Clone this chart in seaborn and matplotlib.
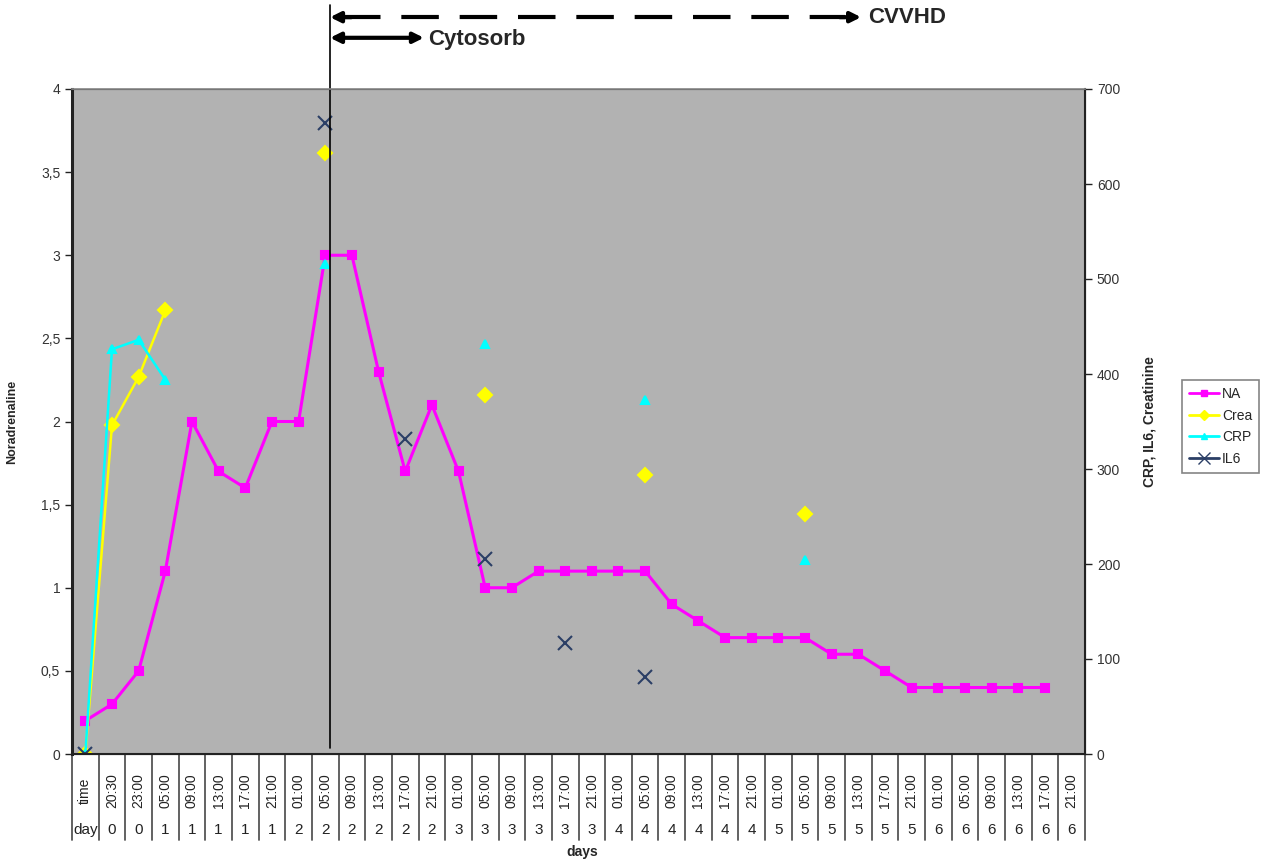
import numpy as np
import pandas as pd
import matplotlib
matplotlib.use("Agg")
import matplotlib.pyplot as plt
import matplotlib.transforms as mtransforms
from matplotlib.lines import Line2D
import seaborn as sns

nan = np.nan

# categorias do eixo x (hora / dia)
horas = ["time", "20:30", "23:00", "05:00", "09:00", "13:00", "17:00", "21:00"] + \
    ["01:00", "05:00", "09:00", "13:00", "17:00", "21:00"] * 5
dias = ["day", "0", "0", "1", "1", "1", "1", "1"] + \
    [str(d) for d in range(2, 7) for _ in range(6)]

# noradrenalina (eixo esquerdo)
na = [0.2, 0.3, 0.5, 1.1, 2.0, 1.7, 1.6, 2.0, 2.0, 3.0, 3.0, 2.3, 1.7, 2.1, 1.7,
      1.0, 1.0, 1.1, 1.1, 1.1, 1.1, 1.1, 0.9, 0.8, 0.7, 0.7, 0.7, 0.7, 0.6, 0.6,
      0.5, 0.4, 0.4, 0.4, 0.4, 0.4, 0.4, nan]

# eixo direito
crea = [0, 346, 397, 467, nan, nan, nan, nan, nan, 633, nan, nan, nan, nan, nan,
        378, nan, nan, nan, nan, nan, 294, nan, nan, nan, nan, nan, 253] + [nan] * 10
crp = [0, 426, 436, 394, nan, nan, nan, nan, nan, 516, nan, nan, nan, nan, nan,
       432, nan, nan, nan, nan, nan, 373, nan, nan, nan, nan, nan, 204] + [nan] * 10
il6 = [0, nan, nan, nan, nan, nan, nan, nan, nan, 664, nan, nan, 332, nan, nan,
       205, nan, nan, 117, nan, nan, 81] + [nan] * 16

inicio_terapia = 9  # 05:00 dia 2


def tabela_longa(valores):
    s = pd.Series(valores, dtype=float)
    df = pd.DataFrame({"pos": np.arange(len(s)), "valor": s, "seg": s.isna().cumsum()})
    return df.dropna()


sns.set_style("ticks")
plt.rcParams["font.family"] = ["Liberation Sans", "DejaVu Sans"]

fig = plt.figure(figsize=(12.69, 8.66), dpi=100)
ax = fig.add_axes([72 / 1269, 1 - 754 / 866, 1013 / 1269, 665 / 866])
ax.set_facecolor("#b2b2b2")
ax2 = ax.twinx()

estilos = [
    (ax, na, "NA", "#ff00ff", "s", 5.5, 2.2),
    (ax2, crea, "Crea", "#ffff00", "D", 7, 1.8),
    (ax2, crp, "CRP", "#00ffff", "^", 6, 1.8),
    (ax2, il6, "IL6", "#2b3f66", "x", 10, 1.5),
]
for eixo, valores, nome, cor, marca, tam, lw in estilos:
    sns.lineplot(data=tabela_longa(valores), x="pos", y="valor", units="seg",
                 estimator=None, sort=False, color=cor, marker=marca,
                 markersize=tam, markeredgecolor=cor, markeredgewidth=1.5,
                 linewidth=lw, legend=False, ax=eixo)

ax.set_xlim(-0.5, len(horas) - 0.5)
ax.set_ylim(0, 4)
ax2.set_ylim(0, 700)
ax.set_yticks(np.arange(0, 4.01, 0.5))
ax.set_yticklabels([f"{v:g}".replace(".", ",") for v in np.arange(0, 4.01, 0.5)])
ax2.set_yticks(np.arange(0, 701, 100))
ax.set_xticks(range(len(horas)))
ax.set_xticklabels([])
ax.tick_params(axis="x", length=0)
ax.tick_params(axis="y", length=5, width=1, color="#222222", labelsize=10, labelcolor="#333333")
ax2.tick_params(axis="y", length=5, width=1, color="#222222", labelsize=10, labelcolor="#333333")
ax.set_xlabel("")
ax.set_ylabel("Noradrenaline", fontsize=9, fontweight="bold")
ax.yaxis.set_label_coords(-0.053, 0.5)
ax2.set_ylabel("CRP, IL6, Creatinine", fontsize=10, fontweight="bold")
ax2.yaxis.set_label_coords(1.057, 0.5)

for lado in ["left", "bottom", "right"]:
    ax2.spines[lado].set_color("#222222")
    ax2.spines[lado].set_linewidth(1.5)
ax2.spines["left"].set_linewidth(2.2)
ax2.spines["top"].set_color("#888888")
ax2.spines["top"].set_linewidth(1.2)

# tabela de rótulos sob o eixo x
trans = mtransforms.blended_transform_factory(ax.transData, ax.transAxes)
for i, (h, d) in enumerate(zip(horas, dias)):
    ax.text(i, -0.055, h, rotation=90, ha="center", va="center", fontsize=10,
            color="#222222", transform=trans)
    ax.text(i, -0.114, d, ha="center", va="center", fontsize=11,
            color="#222222", transform=trans)
for b in np.arange(-0.5, len(horas)):
    ax.plot([b, b], [0, -0.13], transform=trans, clip_on=False,
            color="#555555", lw=1.3)
ax.text(0.504, -0.147, "days", ha="center", va="center", fontsize=10,
        fontweight="bold", transform=ax.transAxes)

# linha e setas da terapia
x0 = inicio_terapia + 0.18
ax2.plot([x0, x0], [0.009, 1.126], transform=trans, clip_on=False, color="black", lw=1.2)

y_cvvhd, x_cvvhd = 1.108, 29.1
ax.plot([x0 + 0.5, x_cvvhd - 0.6], [y_cvvhd, y_cvvhd], transform=trans, clip_on=False,
        color="black", lw=3, dashes=(9, 5))
ax.annotate("", xy=(x0, y_cvvhd), xytext=(x0 + 0.8, y_cvvhd), xycoords=trans,
            textcoords=trans, arrowprops=dict(arrowstyle="-|>,head_length=0.6,head_width=0.3",
                                              color="black", lw=3, shrinkA=0, shrinkB=0))
ax.annotate("", xy=(x_cvvhd, y_cvvhd), xytext=(x_cvvhd - 0.8, y_cvvhd), xycoords=trans,
            textcoords=trans, arrowprops=dict(arrowstyle="-|>,head_length=0.6,head_width=0.3",
                                              color="black", lw=3, shrinkA=0, shrinkB=0))
ax.text(x_cvvhd + 0.25, y_cvvhd, "CVVHD", fontsize=16, fontweight="bold",
        va="center", ha="left", transform=trans)

y_cyto, x_cyto = 1.077, 12.7
ax.annotate("", xy=(x0, y_cyto), xytext=(x_cyto, y_cyto), xycoords=trans,
            textcoords=trans, arrowprops=dict(arrowstyle="<|-|>,head_length=0.6,head_width=0.3",
                                              color="black", lw=3, shrinkA=0, shrinkB=0))
ax.text(x_cyto + 0.15, y_cyto - 0.003, "Cytosorb", fontsize=16, fontweight="bold",
        va="center", ha="left", transform=trans)

# legenda
alcas = [Line2D([], [], color=c, marker=m, markersize=t * 0.8, markeredgecolor=c,
                lw=2, label=n) for _, _, n, c, m, t, _ in estilos]
leg = fig.legend(handles=alcas, loc="upper left", bbox_to_anchor=(1175 / 1269, 1 - 373 / 866),
                 fontsize=10, frameon=True, fancybox=False, handlelength=2.2,
                 handletextpad=0.2, borderpad=0.5, labelspacing=0.55)
leg.get_frame().set_edgecolor("#666666")
leg.get_frame().set_linewidth(1.2)

fig.savefig("out.png", dpi=100)
